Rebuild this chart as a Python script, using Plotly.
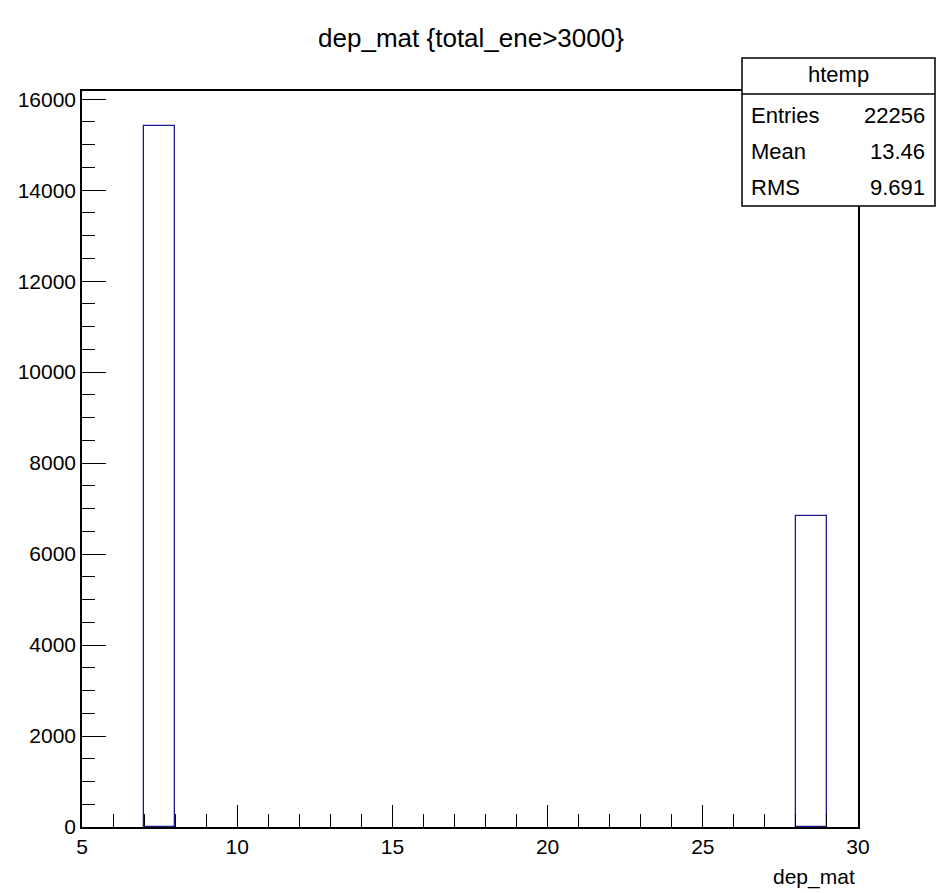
import plotly.graph_objects as go

# Histogram data (non-empty bins of width 1)
bin_low = [7, 28]
bin_width = 1
counts = [15410, 6846]
stats_labels = ["Entries", "Mean", "RMS"]
stats_values = ["22256", "13.46", "9.691"]
hist_name = "htemp"
title_text = "dep_mat {total_ene>3000}"
x_title = "dep_mat"

FONT = "Liberation Sans, Arial, sans-serif"
W, H = 942, 893
ML, MR, MT, MB = 82, 84, 91, 66

centers = [b + bin_width / 2 for b in bin_low]

fig = go.Figure()
fig.add_trace(go.Bar(
    x=centers, y=counts, width=[bin_width] * len(counts),
    marker=dict(color="rgba(255,255,255,0)", line=dict(color="#1c1c8f", width=1.3)),
    showlegend=False, hoverinfo="x+y",
))

ymax = max(counts) * 1.05

fig.update_layout(
    width=W, height=H,
    margin=dict(l=ML, r=MR, t=MT, b=MB, autoexpand=False),
    paper_bgcolor="white", plot_bgcolor="white",
    font=dict(family=FONT, size=21, color="black"),
    title=dict(text=title_text, x=0.5, xanchor="center", y=1 - 38 / H, yanchor="middle",
               font=dict(family=FONT, size=26, color="black")),
    bargap=0,
)
fig.update_xaxes(
    range=[5, 30], dtick=5, tick0=5, showgrid=False, zeroline=False,
    showline=True, linecolor="black", linewidth=1.5, mirror=True,
    ticks="inside", ticklen=22, tickwidth=1.3, tickcolor="black",
    minor=dict(dtick=1, ticks="inside", ticklen=13, tickwidth=1.3, tickcolor="black", showgrid=False),
    tickfont=dict(family=FONT, size=21), tickformat="d",
)
fig.update_yaxes(
    range=[0, ymax], dtick=2000, tick0=0, showgrid=False, zeroline=False,
    showline=True, linecolor="black", linewidth=1.5, mirror=True,
    ticks="inside", ticklen=24, tickwidth=1.3, tickcolor="black",
    minor=dict(dtick=500, ticks="inside", ticklen=13, tickwidth=1.3, tickcolor="black", showgrid=False),
    tickfont=dict(family=FONT, size=21), tickformat="d",
)

pw = W - ML - MR
ph = H - MT - MB
def px(x):
    return (x - ML) / pw
def py(y):
    return (H - MB - y) / ph

# x-axis title
fig.add_annotation(text=x_title, xref="paper", yref="paper", x=px(857), y=py(877),
                   xanchor="right", yanchor="middle", showarrow=False,
                   font=dict(family=FONT, size=21))

# Stats box
bx0, bx1, by0, by1, bh = 742, 935, 58, 206, 94
fig.add_shape(type="rect", xref="paper", yref="paper", x0=px(bx0), x1=px(bx1), y0=py(by1), y1=py(by0),
              fillcolor="white", line=dict(color="black", width=1.5), layer="above")
fig.add_shape(type="line", xref="paper", yref="paper", x0=px(bx0), x1=px(bx1), y0=py(bh), y1=py(bh),
              line=dict(color="black", width=1.5), layer="above")
fig.add_annotation(text=hist_name, xref="paper", yref="paper", x=px((bx0 + bx1) / 2), y=py(75),
                   xanchor="center", yanchor="middle", showarrow=False, font=dict(family=FONT, size=22))
row_y = [115, 151, 188]
for lab, val, ry in zip(stats_labels, stats_values, row_y):
    fig.add_annotation(text=lab, xref="paper", yref="paper", x=px(749), y=py(ry),
                       xanchor="left", yanchor="middle", showarrow=False, font=dict(family=FONT, size=22))
    fig.add_annotation(text=val, xref="paper", yref="paper", x=px(927), y=py(ry),
                       xanchor="right", yanchor="middle", showarrow=False, font=dict(family=FONT, size=22))

fig.write_html("out.html", config={"displayModeBar": False},
               post_script="document.body.style.margin='0';document.body.style.overflow='hidden';")
